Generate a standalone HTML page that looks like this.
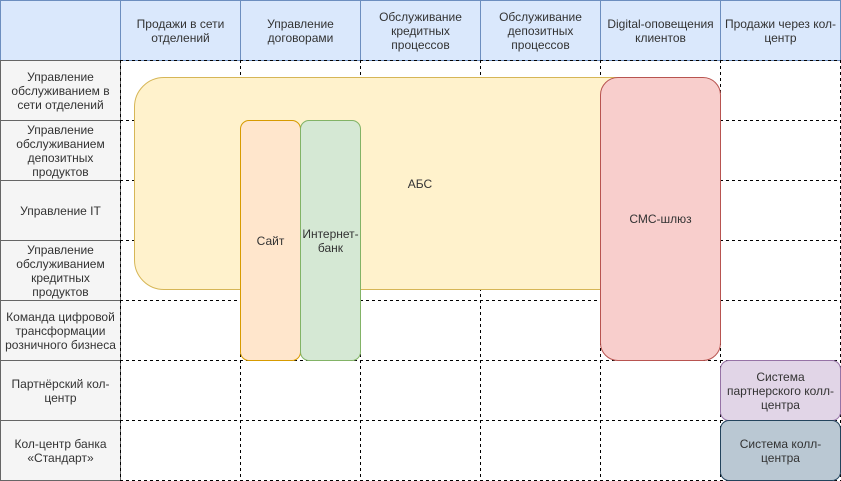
<!DOCTYPE html>
<html><head><meta charset="utf-8"><style>
body{margin:0;width:841px;height:481px;position:relative;background:#fff;font-family:"Liberation Sans",Arial,sans-serif;font-size:12px;color:#333;overflow:hidden}
.a{position:absolute;box-sizing:border-box;display:flex;align-items:center;justify-content:center;text-align:center;line-height:14px}
.h{background:#dae8fc;border:1px solid #6c8ebf}
.r{background:#f5f5f5;border:1px solid #666;padding:0 4px}
</style></head><body>
<div class="a" style="left:0;top:0;width:121px;height:61px;background:#dae8fc;border:1px solid #6c8ebf"></div>
<div class="a h" style="left:120px;top:0;width:121px;height:61px">Продажи в сети отделений</div>
<div class="a h" style="left:240px;top:0;width:121px;height:61px">Управление договорами</div>
<div class="a h" style="left:360px;top:0;width:121px;height:61px">Обслуживание кредитных процессов</div>
<div class="a h" style="left:480px;top:0;width:121px;height:61px">Обслуживание депозитных процессов</div>
<div class="a h" style="left:600px;top:0;width:121px;height:61px">Digital-оповещения клиентов</div>
<div class="a h" style="left:720px;top:0;width:121px;height:61px">Продажи через кол-центр</div>
<div class="a r" style="left:0;top:60px;width:121px;height:61px">Управление обслуживанием в сети отделений</div>
<div class="a r" style="left:0;top:120px;width:121px;height:61px">Управление обслуживанием депозитных продуктов</div>
<div class="a r" style="left:0;top:180px;width:121px;height:61px">Управление IT</div>
<div class="a r" style="left:0;top:240px;width:121px;height:61px">Управление обслуживанием кредитных продуктов</div>
<div class="a r" style="left:0;top:300px;width:121px;height:61px">Команда цифровой трансформации розничного бизнеса</div>
<div class="a r" style="left:0;top:360px;width:121px;height:61px">Партнёрский кол-центр</div>
<div class="a r" style="left:0;top:420px;width:121px;height:61px">Кол-центр банка «Стандарт»</div>
<svg style="position:absolute;left:0;top:0" width="841" height="481">
<g stroke="#000" stroke-dasharray="3,3" fill="none">
<path d="M120.5 60V480.5M240.5 60V480.5M360.5 60V480.5M480.5 60V480.5M600.5 60V480.5M720.5 60V480.5M840.5 60V480.5"/>
<path d="M120 60.5H841M120 120.5H841M120 180.5H841M120 240.5H841M120 300.5H841M120 360.5H841M120 420.5H841M120 480.5H841"/>
</g></svg>
<div class="a" style="left:134px;top:77px;width:572px;height:213px;background:#fff2cc;border:1px solid #d6b656;border-radius:30px">АБС</div>
<div class="a" style="left:240px;top:120px;width:61px;height:241px;background:#ffe6cc;border:1px solid #d79b00;border-radius:9px">Сайт</div>
<div class="a" style="left:300px;top:120px;width:61px;height:241px;background:#d5e8d4;border:1px solid #82b366;border-radius:9px">Интернет-<br>банк</div>
<div class="a" style="left:600px;top:77px;width:121px;height:284px;background:#f8cecc;border:1px solid #b85450;border-radius:18px">СМС-шлюз</div>
<div class="a" style="left:720px;top:360px;width:121px;height:61px;background:#e1d5e7;border:1px solid #9673a6;border-radius:9px">Система<br>партнерского колл-<br>центра</div>
<div class="a" style="left:720px;top:420px;width:121px;height:61px;background:#bac8d3;border:1px solid #23445d;border-radius:9px">Система колл-<br>центра</div>
</body></html>
